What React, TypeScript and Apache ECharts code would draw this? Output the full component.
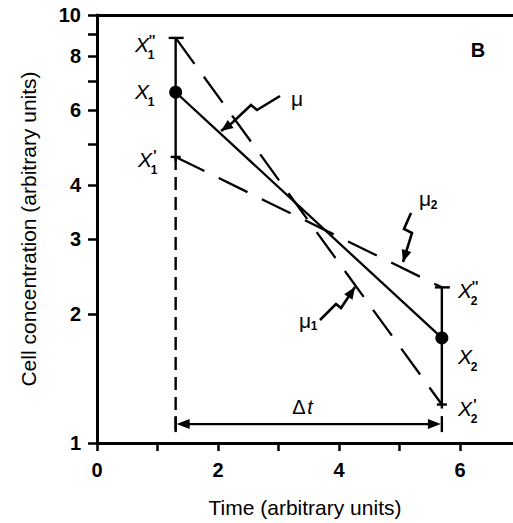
import React, { useEffect, useRef } from "react";
import * as echarts from "echarts";

// ---- data ----
const timeTicks = [0, 1, 2, 3, 4, 5, 6];
const timeLabels = [0, 2, 4, 6];
const concTicks = [1, 2, 3, 4, 5, 6, 7, 8, 9, 10];
const concLabels = [1, 2, 3, 4, 6, 8, 10];

const muLine = [[1.3, 6.6], [5.7, 1.76]];
const mu1Line = [[1.3, 8.84], [5.7, 1.23]];
const mu2Line = [[1.3, 4.66], [5.7, 2.31]];
const errorBars = [[1.3, 4.66, 8.84], [5.7, 1.23, 2.31]];
const dropLine = [[1.3, 4.66], [1.3, 1.05]];
const deltaT = [[1.3, 5.7, 1.107]];

const FONT = '"Liberation Sans", Arial, Helvetica, sans-serif';
const BLACK = "#000";

function arrowHead(tip: number[], from: number[], len = 11, half = 4) {
  const dx = tip[0] - from[0];
  const dy = tip[1] - from[1];
  const d = Math.sqrt(dx * dx + dy * dy) || 1;
  const ux = dx / d, uy = dy / d;
  const bx = tip[0] - ux * len, by = tip[1] - uy * len;
  return [
    [tip[0], tip[1]],
    [bx - uy * half, by + ux * half],
    [bx + uy * half, by - ux * half],
  ];
}

function txt(x: number, y: number, text: string, size: number, opts: any = {}) {
  return {
    type: "text",
    x,
    y,
    silent: true,
    style: {
      text,
      fontSize: size,
      fontFamily: FONT,
      fontStyle: opts.italic ? "italic" : "normal",
      fontWeight: opts.bold ? "bold" : "normal",
      fill: BLACK,
      align: "center",
      verticalAlign: "middle",
      textAlign: "center",
      textVerticalAlign: "middle",
    },
  };
}

function xLabel(x: number, y: number, sub: string, prime: string) {
  const children: any[] = [txt(x, y, "X", 21, { italic: true }), txt(x + 9, y + 11, sub, 12, { bold: true })];
  if (prime) children.push(txt(x + 10, y - 4, prime, 14, { bold: true }));
  return { type: "group", children };
}

function pointer(pts: number[][], tip: number[]) {
  const last = pts[pts.length - 1];
  return {
    type: "group",
    silent: true,
    children: [
      { type: "polyline", shape: { points: [...pts, tip] }, style: { stroke: BLACK, lineWidth: 2.6, fill: null } },
      { type: "polygon", shape: { points: arrowHead(tip, last, 12, 5) }, style: { fill: BLACK } },
    ],
  };
}

export default function App() {
  const ref = useRef<HTMLDivElement>(null);
  useEffect(() => {
    if (!ref.current) return;
    const chart = echarts.init(ref.current, null, { renderer: "svg" });
    const axisLine = { show: true, lineStyle: { color: BLACK, width: 3 } };
    const option: any = {
      animation: false,
      backgroundColor: "#fff",
      grid: { left: 97, right: 0, top: 15, bottom: 80, containLabel: false },
      xAxis: [
        {
          type: "value",
          min: 0,
          max: 6.876,
          position: "bottom",
          axisLine,
          axisTick: { show: true, customValues: timeTicks, length: 8, lineStyle: { color: BLACK, width: 2.5 } },
          axisLabel: {
            customValues: timeLabels,
            fontSize: 20,
            fontWeight: "bold",
            fontFamily: FONT,
            color: BLACK,
            margin: 17,
          },
          splitLine: { show: false },
          name: "Time (arbitrary units)",
          nameLocation: "middle",
          nameGap: 54,
          nameTextStyle: { fontSize: 21, fontFamily: FONT, color: BLACK },
        },
        {
          type: "value",
          min: 0,
          max: 6.876,
          position: "top",
          axisLine,
          axisTick: { show: false },
          axisLabel: { show: false },
          splitLine: { show: false },
        },
      ],
      yAxis: {
        type: "log",
        logBase: 10,
        min: 1,
        max: 10,
        axisLine,
        axisTick: { show: true, customValues: concTicks, length: 9, lineStyle: { color: BLACK, width: 2.5 } },
        axisLabel: {
          customValues: concLabels,
          fontSize: 20,
          fontWeight: "bold",
          fontFamily: FONT,
          color: BLACK,
          margin: 16,
        },
        minorTick: { show: false },
        splitLine: { show: false },
        name: "Cell concentration (arbitrary units)",
        nameLocation: "middle",
        nameGap: 58,
        nameTextStyle: { fontSize: 21, fontFamily: FONT, color: BLACK },
      },
      series: [
        {
          type: "line",
          data: dropLine,
          symbol: "none",
          lineStyle: { color: BLACK, width: 2.4, type: [13, 7] },
          z: 2,
        },
        {
          type: "line",
          data: mu1Line,
          symbol: "none",
          lineStyle: { color: BLACK, width: 2.3, type: [32, 16] },
          z: 2,
        },
        {
          type: "line",
          data: mu2Line,
          symbol: "none",
          lineStyle: { color: BLACK, width: 2.3, type: [32, 16] },
          z: 2,
        },
        {
          type: "line",
          data: muLine,
          symbol: "circle",
          symbolSize: 13,
          showSymbol: true,
          itemStyle: { color: BLACK, borderWidth: 0 },
          lineStyle: { color: BLACK, width: 2.3 },
          z: 4,
        },
        {
          type: "custom",
          data: errorBars,
          encode: { x: 0, y: [1, 2] },
          z: 3,
          renderItem: (params: any, api: any) => {
            const t = api.value(0);
            const pLo = api.coord([t, api.value(1)]);
            const pHi = api.coord([t, api.value(2)]);
            const st = { stroke: BLACK, lineWidth: 2.4 };
            return {
              type: "group",
              children: [
                { type: "line", shape: { x1: pHi[0], y1: pHi[1], x2: pLo[0], y2: pLo[1] + 4 }, style: st },
                { type: "line", shape: { x1: pHi[0] - 7, y1: pHi[1], x2: pHi[0] + 8, y2: pHi[1] }, style: st },
                { type: "line", shape: { x1: pLo[0] - 5, y1: pLo[1], x2: pLo[0] + 5, y2: pLo[1] }, style: st },
              ],
            };
          },
        },
        {
          type: "custom",
          data: deltaT,
          encode: { x: [0, 1], y: 2 },
          z: 3,
          renderItem: (params: any, api: any) => {
            const y = api.value(2);
            const p1 = api.coord([api.value(0), y]);
            const p2 = api.coord([api.value(1), y]);
            const st = { stroke: BLACK, lineWidth: 2.4 };
            return {
              type: "group",
              children: [
                { type: "line", shape: { x1: p1[0] + 8, y1: p1[1], x2: p2[0] - 8, y2: p2[1] }, style: st },
                { type: "polygon", shape: { points: arrowHead([p1[0] + 1, p1[1]], [p1[0] + 20, p1[1]], 13, 5) }, style: { fill: BLACK } },
                { type: "polygon", shape: { points: arrowHead([p2[0] - 1, p2[1]], [p2[0] - 20, p2[1]], 13, 5) }, style: { fill: BLACK } },
                { type: "line", shape: { x1: p1[0], y1: p1[1] - 8, x2: p1[0], y2: p1[1] + 8 }, style: st },
                { type: "line", shape: { x1: p2[0], y1: p2[1] - 8, x2: p2[0], y2: p2[1] + 8 }, style: st },
              ],
            };
          },
        },
      ],
      graphic: [
        xLabel(142, 44, "1", "''"),
        xLabel(142, 91, "1", ""),
        xLabel(145, 159, "1", "'"),
        xLabel(465, 290, "2", "''"),
        xLabel(465, 356, "2", ""),
        xLabel(465, 408, "2", "'"),
        txt(478, 50, "B", 20, { bold: true }),
        txt(297, 98, "μ", 21),
        txt(425, 198, "μ", 21),
        txt(434, 205, "2", 12, { bold: true }),
        txt(305, 320, "μ", 21),
        txt(314, 326, "1", 12, { bold: true }),
        {
          type: "group",
          children: [txt(299, 407, "Δ", 20), txt(310, 407, "t", 20, { italic: true })],
        },
        pointer([[280, 96], [257, 110], [251, 105], [232, 123]], [221, 131]),
        pointer([[411, 213], [404, 229], [412, 233]], [403, 262]),
        pointer([[320, 320], [336, 304], [341, 308]], [355, 287]),
      ],
    };
    chart.setOption(option);
    return () => chart.dispose();
  }, []);
  return (
    <div
      ref={ref}
      style={{ position: "absolute", left: 0, top: 0, width: 513, height: 523, background: "#fff" }}
    />
  );
}
